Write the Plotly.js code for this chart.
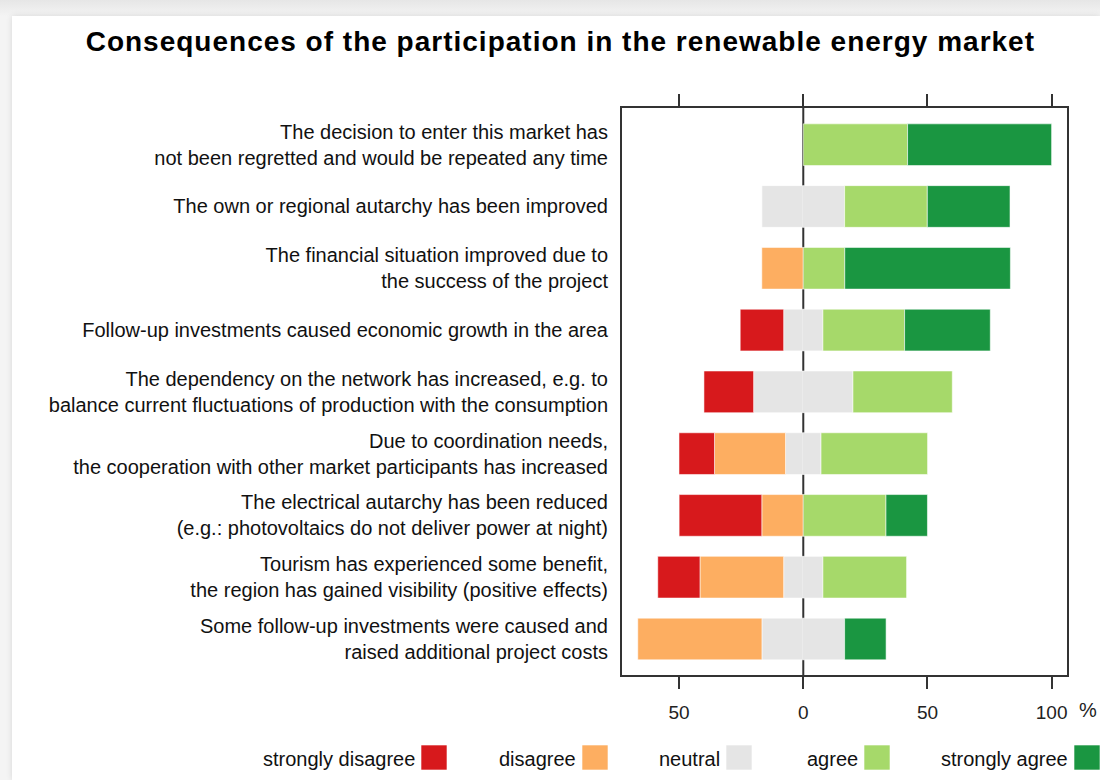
<!DOCTYPE html>
<html>
<head>
<meta charset="utf-8">
<script src="https://cdn.plot.ly/plotly-3.0.1.min.js"></script>
<style>
  html, body { margin: 0; padding: 0; width: 1100px; height: 780px; overflow: hidden;
    background: linear-gradient(to bottom, #e6e6e6 0px, #f4f4f4 16px, #f4f4f4 100%); }
  #chart { position: absolute; left: 12px; top: 16px; width: 1088px; height: 764px; background: #fff;
    box-shadow: 0 0 6px rgba(0,0,0,0.12); }
  #chart .gtitle { letter-spacing: 1px; }
</style>
</head>
<body>
<div id="chart"></div>
<script>
// ---- data ----
const categories = [
  "The decision to enter this market has<br>not been regretted and would be repeated any time",
  "The own or regional autarchy has been improved",
  "The financial situation improved due to<br>the success of the project",
  "Follow-up investments caused economic growth in the area",
  "The dependency on the network has increased, e.g. to<br>balance current fluctuations of production with the consumption",
  "Due to coordination needs,<br>the cooperation with other market participants has increased",
  "The electrical autarchy has been reduced<br>(e.g.: photovoltaics do not deliver power at night)",
  "Tourism has experienced some benefit,<br>the region has gained visibility (positive effects)",
  "Some follow-up investments were caused and<br>raised additional project costs"
];
const stronglyDisagree = [0, 0, 0, 17.5, 20, 14.3, 33.3, 17, 0];
const disagree         = [0, 0, 16.7, 0, 0, 28.6, 16.7, 33.7, 50];
const neutral          = [0, 33.3, 0, 15.8, 40, 14.3, 0, 15.8, 33.3];
const agree            = [42, 33.3, 16.7, 32.9, 40, 42.9, 33.3, 33.7, 0];
const stronglyAgree    = [58, 33.3, 66.7, 34.5, 0, 0, 16.7, 0, 16.7];

const levelNames  = ["strongly disagree", "disagree", "neutral", "agree", "strongly agree"];
const levelColors = ["#D7191C", "#FDAE61", "#E5E5E5", "#A6D96A", "#1A9641"];
const tickVals  = [-50, 0, 50, 100];
const tickText  = ["50", "0", "50", "100"];

const FONT = 'Liberation Sans, Arial, sans-serif';

// ---- traces ----
const nz = v => (v === 0 ? null : v);
function bar(vals, sign, colorIdx, name) {
  return {
    type: 'bar', orientation: 'h', name: name,
    y: categories,
    x: vals.map(v => nz(sign * v)),
    marker: { color: levelColors[colorIdx], line: { color: 'rgba(255,255,255,0.55)', width: 1 } },
    width: 0.675,
    showlegend: false,
    hovertemplate: name + ': %{x}<extra></extra>'
  };
}
const traces = [
  bar(neutral.map(v => v / 2), -1, 2, levelNames[2]),
  bar(disagree, -1, 1, levelNames[1]),
  bar(stronglyDisagree, -1, 0, levelNames[0]),
  bar(neutral.map(v => v / 2), 1, 2, levelNames[2]),
  bar(agree, 1, 3, levelNames[3]),
  bar(stronglyAgree, 1, 4, levelNames[4])
];

// ---- layout helpers (pixel -> paper) ----
const W = 1088, H = 764;
const M = { l: 610, r: 33, t: 92, b: 105 };
const PW = W - M.l - M.r, PH = H - M.t - M.b;
const px = x => (x - M.l) / PW;
const py = y => (H - M.b - y) / PH;

const shapes = [
  { type: 'line', xref: 'x', yref: 'paper', x0: 0, x1: 0, y0: 0, y1: 1,
    line: { color: '#333', width: 2 }, layer: 'below' }
];
const annotations = [
  { text: '%', xref: 'paper', yref: 'paper', x: px(1076), y: py(694), xanchor: 'center', yanchor: 'middle',
    showarrow: false, font: { family: FONT, size: 20, color: '#222' } }
];
const boxLeft = [409, 570, 714, 852, 1062];
levelNames.forEach((nm, i) => {
  shapes.push({ type: 'rect', xref: 'paper', yref: 'paper',
    x0: px(boxLeft[i]), x1: px(boxLeft[i] + 26), y0: py(754), y1: py(729),
    fillcolor: levelColors[i], line: { color: 'rgba(255,255,255,0.6)', width: 1 } });
  annotations.push({ text: nm, xref: 'paper', yref: 'paper', x: px(boxLeft[i] - 4), y: py(743),
    xanchor: 'right', yanchor: 'middle', showarrow: false,
    font: { family: FONT, size: 20, color: '#111' } });
});

const layout = {
  width: W, height: H,
  margin: M,
  paper_bgcolor: '#fff', plot_bgcolor: '#fff',
  barmode: 'relative',
  title: { text: 'Consequences of the participation in the renewable energy market',
    x: 0.504, xanchor: 'center', y: 1 - 25 / H, yanchor: 'middle',
    font: { family: FONT, size: 28, color: '#000', weight: 'bold' } },
  xaxis: {
    range: [-73.0, 106.2], tickvals: tickVals, ticktext: tickText,
    ticks: 'outside', ticklen: 12, tickwidth: 2, tickcolor: '#333',
    showline: true, linecolor: '#333', linewidth: 2, mirror: 'ticks',
    showgrid: false, zeroline: false, ticklabelstandoff: 7,
    tickfont: { family: FONT, size: 19, color: '#222' }
  },
  yaxis: {
    type: 'category', range: [8.583, -0.594],
    ticks: '', showline: true, linecolor: '#333', linewidth: 2, mirror: true,
    showgrid: false, zeroline: false, ticklabelstandoff: 8,
    tickfont: { family: FONT, size: 20, color: '#111' }
  },
  shapes: shapes,
  annotations: annotations
};

Plotly.newPlot('chart', traces, layout, { displayModeBar: false, staticPlot: true });
</script>
</body>
</html>
